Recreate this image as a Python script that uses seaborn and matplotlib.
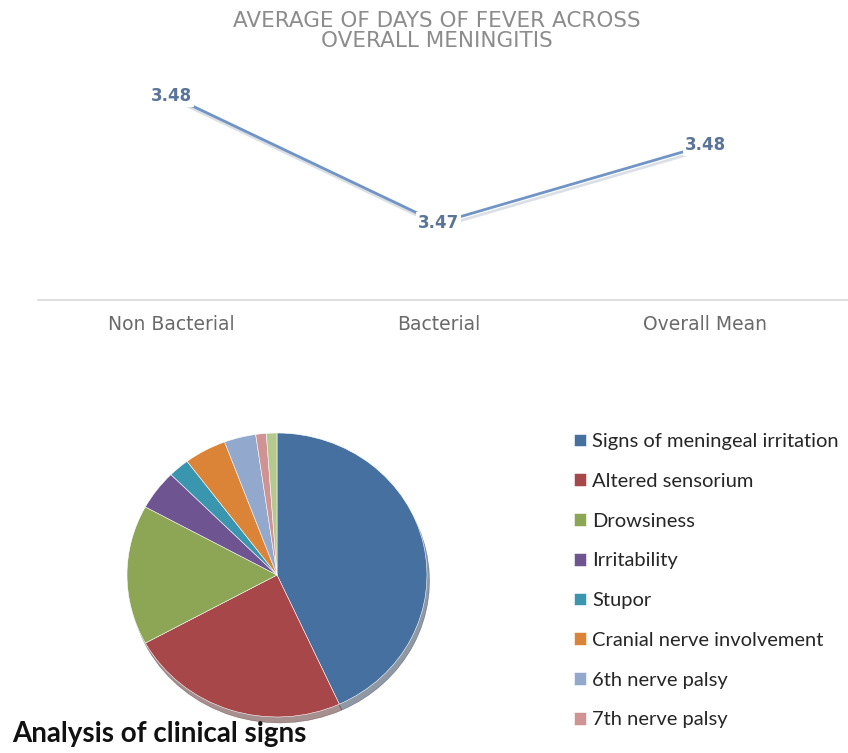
import matplotlib
matplotlib.use("Agg")
import matplotlib.pyplot as plt
import matplotlib.patheffects as pe
import numpy as np
import pandas as pd
import seaborn as sns

# Mean days of fever by meningitis group
groups = ["Non Bacterial", "Bacterial", "Overall Mean"]
fever_days = [3.484, 3.466, 3.477]

# Clinical signs (case counts)
signs = ["Signs of meningeal irritation", "Altered sensorium", "Drowsiness",
         "Irritability", "Stupor", "Cranial nerve involvement",
         "6th nerve palsy", "7th nerve palsy", "Other"]
sign_counts = [38, 21, 14, 4, 2, 4, 3, 1, 1]
sign_colors = ["#46709F", "#A8474A", "#8DA656", "#6E5592", "#3A96AE",
               "#DB8438", "#92A8CD", "#D09393", "#B5C98E"]

sns.set_theme(style="white")
plt.rcParams["font.family"] = ["DejaVu Sans"]

W, H = 848, 753
fig = plt.figure(figsize=(W / 100, H / 100), dpi=100)


def box(x0, y0, x1, y1):
    return [x0 / W, 1 - y1 / H, (x1 - x0) / W, (y1 - y0) / H]


# ---- line chart ----
ax = fig.add_axes(box(38, 60, 848, 300))
df = pd.DataFrame({"group": groups, "days": fever_days})
sns.lineplot(data=df, x="group", y="days", ax=ax, color="#7094c6", lw=2.0,
             sort=False,
             path_effects=[pe.SimpleLineShadow(offset=(1.5, -2.5),
                                               shadow_color="#9aa7b8", alpha=0.35),
                           pe.Normal()])
for i, v in enumerate(fever_days):
    ax.text(i, v, f"{v:.2f}", ha="center", va="center", fontsize=12,
            fontweight="bold", color="#5a7597",
            bbox=dict(fc="white", ec="none", pad=1.5))
ax.set_xlim(-0.5, 2.535)
ax.set_ylim(3.4551, 3.4891)
ax.set_yticks([])
ax.set_xlabel("")
ax.set_ylabel("")
ax.set_xticks(range(len(groups)))
ax.set_xticklabels(groups, fontsize=13.5, color="#6a6a6a")
ax.tick_params(axis="x", length=0, pad=11)
for s in ["top", "left", "right"]:
    ax.spines[s].set_visible(False)
ax.spines["bottom"].set_color("#d9d9d9")
ax.spines["bottom"].set_linewidth(1.2)
ax.set_facecolor("none")

fig.text(437 / W, 1 - 31 / H, "AVERAGE OF DAYS OF FEVER ACROSS\nOVERALL MENINGITIS",
         ha="center", va="center", multialignment="center", linespacing=0.98,
         fontsize=15.5, color="#8c8c8c")

# ---- pie chart ----
axp = fig.add_axes(box(127, 433, 427, 717))
wedges, _ = axp.pie(sign_counts, colors=sign_colors, startangle=90,
                    counterclock=False,
                    wedgeprops=dict(edgecolor="white", linewidth=0.4),
                    shadow=dict(ox=0.012, oy=-0.03, shade=0.55))
axp.set_aspect("auto")
axp.set_xlim(-1, 1)
axp.set_ylim(-1, 1)
axp.axis("off")

fig.legend(wedges[:8], signs[:8], loc="upper left",
           bbox_to_anchor=(574 / W, 1 - 433 / H), frameon=False,
           prop=dict(family="Lato", size=14.5),
           handlelength=0.6, handleheight=0.6, handletextpad=0.3,
           labelspacing=1.13, borderpad=0, borderaxespad=0)

fig.text(12 / W, 1 - 742 / H, "Analysis of clinical signs", ha="left",
         va="baseline", fontsize=20, fontweight="bold", family="Lato",
         color="#111111")

fig.savefig("out.png", dpi=100)
